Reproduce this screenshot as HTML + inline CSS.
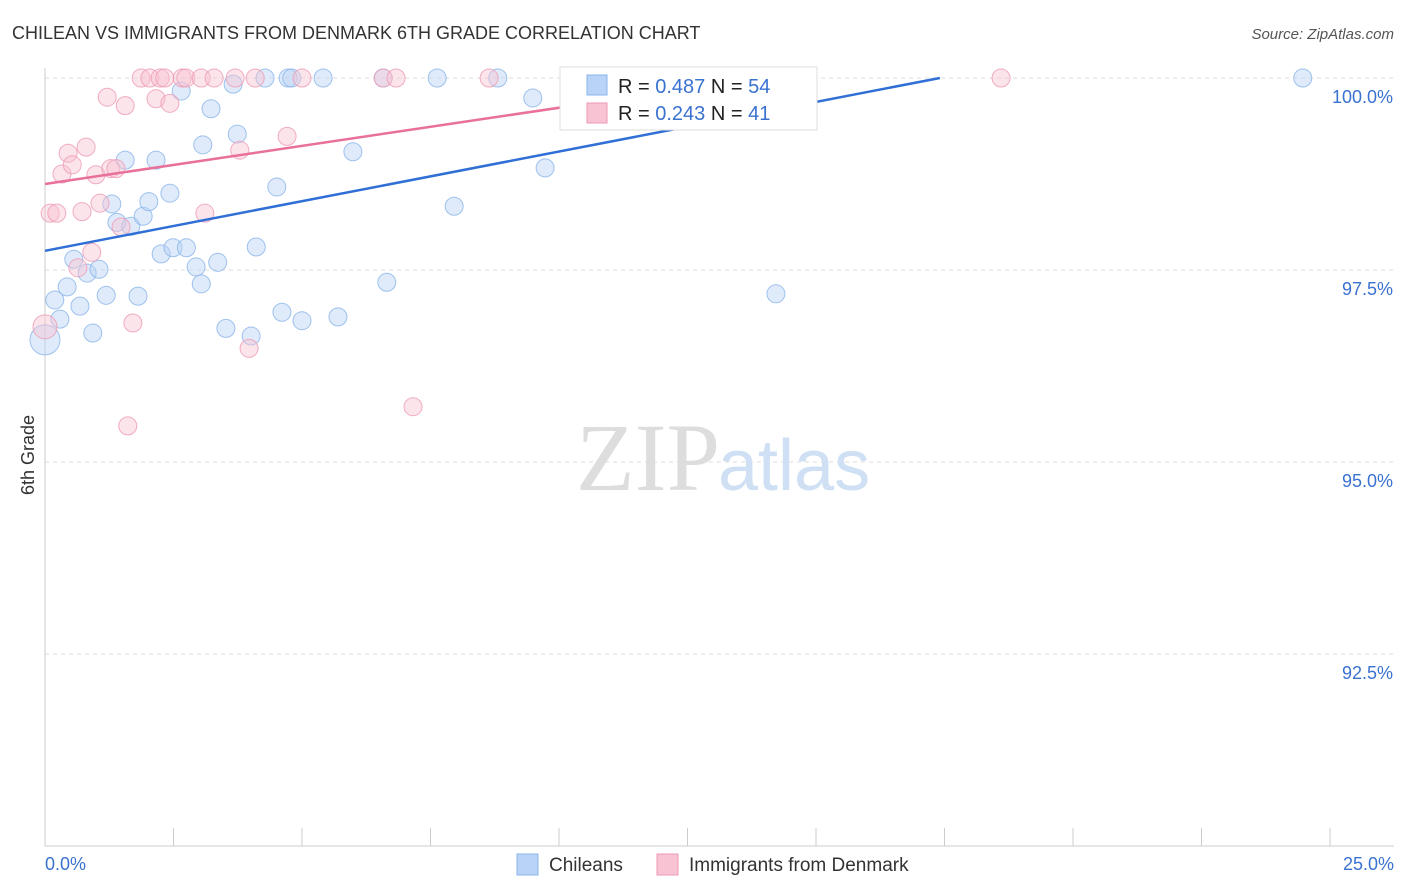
<!DOCTYPE html>
<html><head><meta charset="utf-8"><style>
body{margin:0;background:#fff;font-family:"Liberation Sans",sans-serif;}
svg{display:block}
</style></head><body>
<svg id="chart" width="1406" height="892" xmlns="http://www.w3.org/2000/svg">
<text x="12" y="39" font-size="18" fill="#333">CHILEAN VS IMMIGRANTS FROM DENMARK 6TH GRADE CORRELATION CHART</text>
<text x="1394" y="39" font-size="15" fill="#555" font-style="italic" text-anchor="end">Source: ZipAtlas.com</text>
<text x="34" y="455" font-size="18" fill="#333" transform="rotate(-90 34 455)" text-anchor="middle">6th Grade</text>
<g id="grid"></g>
<text x="720" y="490" font-size="96" fill="#ddd" font-family="Liberation Serif" text-anchor="end">ZIP</text>
<text x="718" y="490" font-size="72" fill="#cfe0f5">atlas</text>
<g id="pts"></g>
<g id="lines"></g>
<g>
<rect x="560" y="67" width="257" height="63" fill="#fff" stroke="#ddd"/>
<rect x="587" y="75" width="20" height="20" fill="#b8d3f5" stroke="#8ab4ea"/>
<text x="618" y="93" font-size="20" fill="#222">R = <tspan fill="#3a72d0">0.487</tspan>   N = <tspan fill="#3a72d0">54</tspan></text>
<rect x="587" y="103" width="20" height="20" fill="#f8c3d3" stroke="#ee9ab4"/>
<text x="618" y="120" font-size="20" fill="#222">R = <tspan fill="#3a72d0">0.243</tspan>   N = <tspan fill="#3a72d0"> 41</tspan></text>
</g>
<g>
<rect x="517" y="854" width="21" height="21" fill="#b8d3f5" stroke="#8ab4ea"/>
<text x="549" y="871" font-size="19" fill="#333">Chileans</text>
<rect x="657" y="854" width="21" height="21" fill="#f8c3d3" stroke="#ee9ab4"/>
<text x="689" y="871" font-size="19" fill="#333">Immigrants from Denmark</text>
</g>
</svg>
<script>
const blueX=[0,0.19,0.29,0.43,0.56,0.68,0.82,0.93,1.05,1.19,1.30,1.40,1.56,1.67,1.81,1.91,2.02,2.16,2.26,2.43,2.49,2.65,2.75,2.94,3.04,3.07,3.23,3.36,3.52,3.66,3.74,4.01,4.11,4.28,4.51,4.61,4.73,4.80,5.00,5.41,5.70,5.99,6.58,6.65,7.63,7.96,8.81,9.49,9.73,12.86,13.09,14.07,14.22,24.47];
const blueY=[96.59,97.11,96.86,97.28,97.64,97.03,97.46,96.68,97.51,97.17,98.36,98.12,98.93,98.07,97.16,98.20,98.39,98.93,97.71,98.50,97.79,99.83,97.79,97.54,97.32,99.13,99.60,97.60,96.74,99.92,99.27,96.64,97.80,100,98.58,96.95,100,100,96.84,100,96.89,99.04,100,97.34,100,98.33,100,99.74,98.83,100,100,100,97.19,100];
const pinkX=[0,0.10,0.23,0.33,0.45,0.53,0.64,0.72,0.80,0.91,0.99,1.07,1.21,1.28,1.38,1.48,1.56,1.61,1.71,1.87,2.04,2.16,2.24,2.33,2.43,2.67,2.74,3.04,3.11,3.29,3.70,3.79,3.97,4.09,4.71,5.00,6.58,6.83,7.16,8.64,18.60];
const pinkY=[96.76,98.24,98.24,98.75,99.02,98.87,97.53,98.26,99.10,97.73,98.74,98.37,99.75,98.82,98.82,98.06,99.64,95.47,96.81,100,100,99.73,100,100,99.67,100,100,100,98.24,100,100,99.06,96.48,100,99.24,100,100,100,95.72,100,100];
const yTicks=[100,97.5,95,92.5];
const yTickLabels=["100.0%","97.5%","95.0%","92.5%"];
const xTickVals=[0,2.5,5,7.5,10,12.5,15,17.5,20,22.5,25];
const xEndLabels=["0.0%","25.0%"];
const blueLine=[97.75,100,17.41]; // intercept, end y, end x
const pinkLine=[98.62,100,13.9];
const NS="http://www.w3.org/2000/svg";
const sx=v=>45+v/25*1285, sy=v=>78+(100-v)/2.5*192;
function mk(t,a,p){const e=document.createElementNS(NS,t);for(const k in a)e.setAttribute(k,a[k]);p.appendChild(e);return e;}
const g=document.getElementById('grid');
yTicks.forEach((v,i)=>{
 const l=mk('line',{x1:45,x2:1394,y1:sy(v),y2:sy(v),stroke:'#ddd','stroke-dasharray':'4,4'},g);
 
 
 const t=mk('text',{x:1393,y:sy(v)+25,'font-size':18,fill:'#3a72d0','text-anchor':'end'},g);
 t.textContent=yTickLabels[i];
 
 
});
const ax=mk('line',{x1:45,x2:45,y1:68,y2:846,stroke:'#ccc'},g);


const bx=mk('line',{x1:45,x2:1394,y1:846,y2:846,stroke:'#ccc'},g);


xTickVals.forEach(v=>{const l=mk('line',{x1:sx(v),x2:sx(v),y1:828,y2:846,stroke:'#ccc'},g);
 
 });
const t0=mk('text',{x:45,y:870,'font-size':18,fill:'#3a72d0'},g);t0.textContent=xEndLabels[0];


const t1=mk('text',{x:1394,y:870,'font-size':18,fill:'#3a72d0','text-anchor':'end'},g);t1.textContent=xEndLabels[1];


const P=document.getElementById('pts');
function pts(X,Y,fill,stroke,name){X.forEach((x,i)=>{const r=i===0?(name==='chilean-point'?15:12):9;
 const c=mk('circle',{cx:sx(x),cy:sy(Y[i]),r:r,fill:fill,'fill-opacity':0.45,stroke:stroke,'stroke-opacity':0.8},P);
 
 });}
pts(blueX,blueY,'#b8d3f5','#8ab4ea','chilean-point');
pts(pinkX,pinkY,'#f8c3d3','#ee9ab4','denmark-point');
const L=document.getElementById('lines');
const b=mk('line',{x1:sx(0),y1:sy(blueLine[0]),x2:sx(blueLine[2]),y2:sy(blueLine[1]),stroke:'#2f6fd6','stroke-width':2.5},L);


const p=mk('line',{x1:sx(0),y1:sy(pinkLine[0]),x2:sx(pinkLine[2]),y2:sy(pinkLine[1]),stroke:'#e8709a','stroke-width':2.5},L);


</script>
</body></html>
